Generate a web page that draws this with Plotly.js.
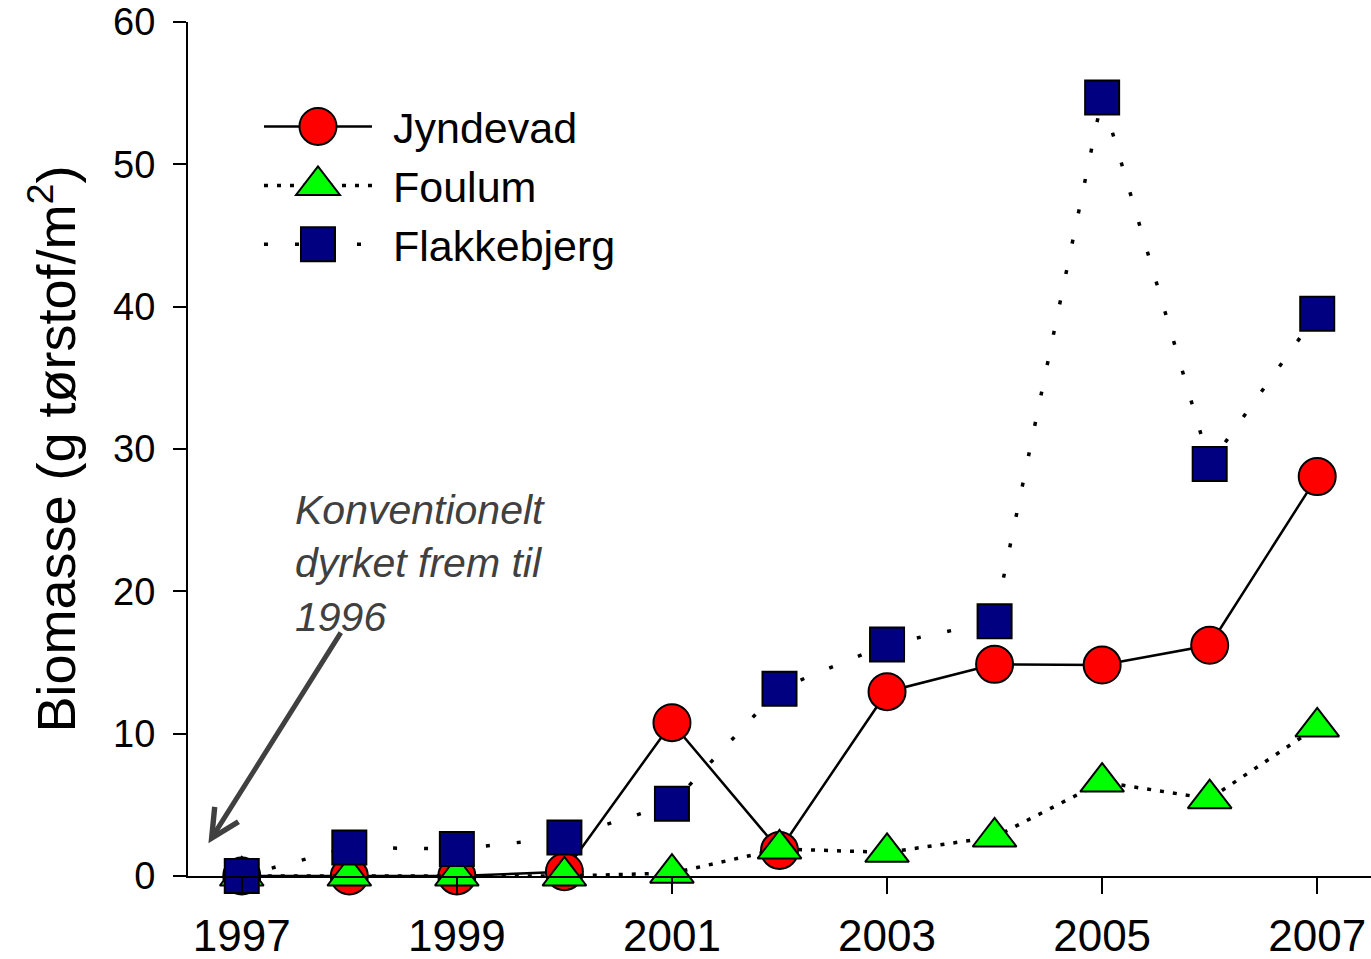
<!DOCTYPE html>
<html>
<head>
<meta charset="utf-8">
<script src="https://cdn.plot.ly/plotly-3.0.1.min.js"></script>
<style>html,body{margin:0;padding:0;background:#fff;}#chart{width:1371px;height:959px;}</style>
</head>
<body>
<div id="chart"></div>
<script>
var years = [1997, 1998, 1999, 2000, 2001, 2002, 2003, 2004, 2005, 2006, 2007];
var jyndevad = [0, 0, 0, 0.3, 10.77, 1.8, 12.95, 14.87, 14.82, 16.21, 28.06];
var foulum = [0, 0, 0, 0, 0.2, 1.9, 1.66, 2.74, 6.6, 5.43, 10.47];
var flakkebjerg = [0, 2.0, 1.9, 2.7, 5.07, 13.16, 16.27, 17.9, 54.7, 28.95, 39.5];
var xTicks = [1997, 1999, 2001, 2003, 2005, 2007];
var yTicks = [0, 10, 20, 30, 40, 50, 60];
var seriesNames = ['Jyndevad', 'Foulum', 'Flakkebjerg'];
var noteText = 'Konventionelt<br>dyrket frem til<br>1996';

var FONT = 'Arial, "Liberation Sans", sans-serif';
var markerSizes = [37, 38, 34];

var traces = [
  {
    x: years, y: jyndevad, name: seriesNames[0], type: 'scatter', mode: 'lines+markers',
    line: {color: '#000', width: 2.5, dash: 'solid'},
    marker: {symbol: 'circle', size: markerSizes[0], color: '#ff0000', line: {color: '#000', width: 2}},
    cliponaxis: false
  },
  {
    x: years, y: foulum, name: seriesNames[1], type: 'scatter', mode: 'lines+markers',
    line: {color: '#000', width: 3.5, dash: '4px,9px'},
    marker: {symbol: 'triangle-up', size: markerSizes[1], color: '#00ff00', line: {color: '#000', width: 2}},
    cliponaxis: false
  },
  {
    x: years, y: flakkebjerg, name: seriesNames[2], type: 'scatter', mode: 'lines+markers',
    line: {color: '#000', width: 3.5, dash: '4px,27px'},
    marker: {symbol: 'square', size: markerSizes[2], color: '#000080', line: {color: '#000', width: 2}},
    cliponaxis: false
  }
];

var layout = {
  width: 1371, height: 959,
  margin: {l: 188, r: 0, t: 22, b: 83},
  paper_bgcolor: '#fff', plot_bgcolor: '#fff',
  font: {family: FONT, color: '#000'},
  showlegend: true,
  legend: {
    x: 0.06, y: 0.918, xanchor: 'left', yanchor: 'top',
    bgcolor: 'rgba(0,0,0,0)', borderwidth: 0,
    font: {family: FONT, size: 43, color: '#000'},
    itemwidth: 108,
    tracegroupgap: 0
  },
  xaxis: {
    range: [1996.5, 2007.5],
    tickvals: xTicks, ticktext: xTicks.map(String),
    ticks: 'outside', ticklen: 16, tickwidth: 2, tickcolor: '#000',
    showline: true, linewidth: 2, linecolor: '#000',
    showgrid: false, zeroline: false,
    tickfont: {family: FONT, size: 44, color: '#000'},
    ticklabelstandoff: 4
  },
  yaxis: {
    range: [0, 60],
    tickvals: yTicks, ticktext: yTicks.map(String),
    ticks: 'outside', ticklen: 13, tickwidth: 2, tickcolor: '#000',
    showline: true, linewidth: 2, linecolor: '#000',
    showgrid: false, zeroline: false,
    tickfont: {family: FONT, size: 38, color: '#000'},
    ticklabelstandoff: 10,
    title: {text: 'Biomasse (g tørstof/m<sup>2</sup>)', font: {family: FONT, size: 54, color: '#000'}, standoff: 20}
  },
  annotations: [
    {
      x: 1997.48, y: 27.45, xref: 'x', yref: 'y', xanchor: 'left', yanchor: 'top', align: 'left',
      showarrow: false, text: noteText,
      font: {family: FONT, size: 41, color: '#404040', style: 'italic'}
    },
    {
      x: 1996.69, y: 2.3, ax: 1997.93, ay: 17.2, xref: 'x', yref: 'y', axref: 'x', ayref: 'y',
      text: '', showarrow: true, arrowhead: 5, arrowsize: 1.1, arrowwidth: 5, arrowcolor: '#404040',
      standoff: 0, startstandoff: 0
    }
  ]
};

Plotly.newPlot('chart', traces, layout, {displayModeBar: false, staticPlot: true}).then(function (gd) {
  // enlarge legend symbols to match the plotted marker sizes (Plotly caps them at 16px)
  gd.querySelectorAll('.legend [clip-path]').forEach(function (el) { el.removeAttribute('clip-path'); });
  var items = gd.querySelectorAll('.legend .traces');
  items.forEach(function (item, i) {
    var s = markerSizes[i] / 16;
    item.querySelectorAll('path.scatterpts').forEach(function (p) {
      var t = p.getAttribute('transform') || '';
      p.setAttribute('transform', t + ' scale(' + s + ')');
      p.style.strokeWidth = (2 / s) + 'px';
    });
    item.querySelectorAll('text.legendtext').forEach(function (tx) {
      var x0 = parseFloat(tx.getAttribute('x')) || 0;
      tx.setAttribute('x', x0 + 16);
    });
  });
});
</script>
</body>
</html>
